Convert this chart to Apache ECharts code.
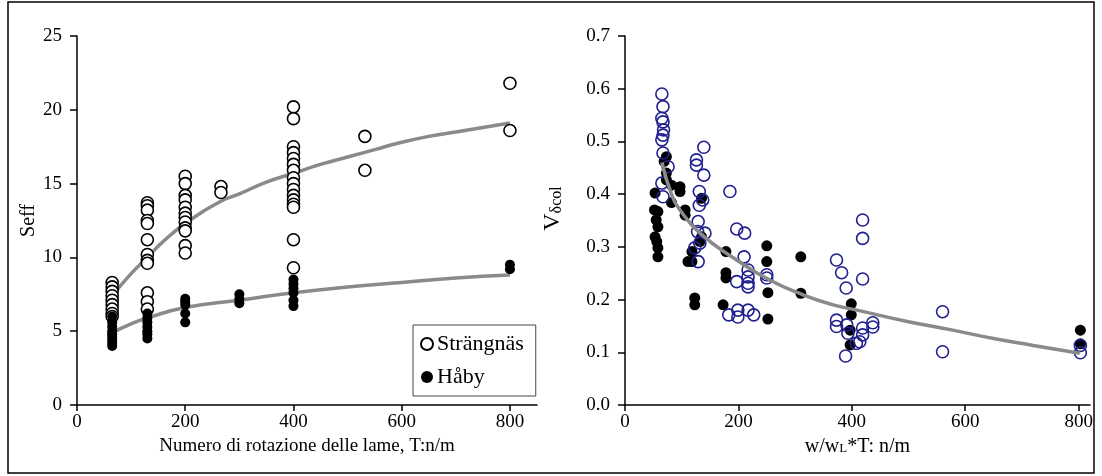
<!DOCTYPE html>
<html>
<head>
<meta charset="utf-8">
<script src="https://cdn.jsdelivr.net/npm/echarts@6/dist/echarts.min.js"></script>
<style>
html, body { margin: 0; padding: 0; background: #fff; }
#chart { width: 1102px; height: 476px; }
</style>
</head>
<body>
<div id="chart"></div>
<script>
// left panel: Seff vs rotation number T (n/m)
var strangnasSeff = [
  [65, 8.3], [65, 8.0], [65, 7.7], [65, 7.4], [65, 7.1], [65, 6.8], [65, 6.5], [65, 6.2], [65, 6.0],
  [130, 13.7], [130, 13.5], [130, 13.2], [130, 12.5], [130, 12.3], [130, 11.2], [130, 10.2], [130, 9.8], [130, 9.6], [130, 7.6], [130, 7.0], [130, 6.5],
  [200, 15.5], [200, 15.0], [200, 14.2], [200, 13.9], [200, 13.4], [200, 13.0], [200, 12.7], [200, 12.4], [200, 12.0], [200, 11.8], [200, 10.8], [200, 10.3],
  [266, 14.8], [266, 14.4],
  [400, 20.2], [400, 19.4], [400, 17.5], [400, 17.1], [400, 16.7], [400, 16.3], [400, 15.9], [400, 15.4], [400, 15.0], [400, 14.6], [400, 14.2], [400, 13.9], [400, 13.6], [400, 13.4], [400, 11.2], [400, 9.3],
  [532, 18.2], [532, 15.9],
  [800, 21.8], [800, 18.6]
];
var habySeff = [
  [65, 6.0], [65, 5.6], [65, 5.3], [65, 5.0], [65, 4.8], [65, 4.6], [65, 4.4], [65, 4.2], [65, 4.0],
  [130, 6.2], [130, 5.9], [130, 5.6], [130, 5.3], [130, 5.0], [130, 4.8], [130, 4.5],
  [200, 7.2], [200, 7.0], [200, 6.8], [200, 6.2], [200, 5.6],
  [300, 7.5], [300, 7.2], [300, 6.9],
  [400, 8.5], [400, 8.2], [400, 7.9], [400, 7.6], [400, 7.1], [400, 6.7],
  [800, 9.5], [800, 9.2]
];
var fitStrangnas = [
  [65, 7.4], [100, 8.9], [130, 10.0], [160, 11.1], [200, 12.3], [266, 13.8], [300, 14.3], [350, 15.1],
  [400, 15.7], [450, 16.3], [500, 16.8], [550, 17.3], [600, 17.8], [650, 18.2], [700, 18.5], [750, 18.8], [800, 19.1]
];
var fitHaby = [
  [65, 4.9], [100, 5.5], [130, 5.9], [200, 6.6], [300, 7.1], [400, 7.6], [500, 8.0], [600, 8.3], [700, 8.6], [800, 8.8]
];

// right panel: V dcol vs w/wL*T
var strangnasV = [
  [65, 0.590], [67, 0.566], [65, 0.544], [67, 0.537], [68, 0.522], [67, 0.512], [65, 0.503], [67, 0.478], [76, 0.452], [65, 0.421], [67, 0.395],
  [126, 0.465], [126, 0.455], [139, 0.489], [139, 0.436], [131, 0.405], [131, 0.379], [137, 0.389], [185, 0.405],
  [129, 0.348], [128, 0.329], [141, 0.326], [132, 0.307], [123, 0.298], [129, 0.272],
  [197, 0.334], [211, 0.326], [210, 0.281], [197, 0.234], [217, 0.256], [217, 0.243], [217, 0.231], [217, 0.224], [250, 0.247], [250, 0.241],
  [183, 0.171], [199, 0.180], [199, 0.167], [217, 0.180], [227, 0.171],
  [373, 0.275], [382, 0.251], [390, 0.222], [373, 0.161], [373, 0.149], [391, 0.152], [393, 0.136], [389, 0.093],
  [419, 0.351], [419, 0.316], [419, 0.239], [419, 0.146], [419, 0.133], [414, 0.120], [408, 0.117], [437, 0.156], [437, 0.148],
  [560, 0.177], [560, 0.101], [803, 0.099], [803, 0.113]
];
var habyV = [
  [53, 0.402], [82, 0.384], [73, 0.471], [69, 0.462], [73, 0.440], [73, 0.427], [82, 0.417], [97, 0.414], [97, 0.405], [52, 0.370], [58, 0.367], [106, 0.370], [135, 0.392],
  [55, 0.351], [58, 0.338], [53, 0.319], [56, 0.310], [58, 0.298], [58, 0.281], [106, 0.360],
  [118, 0.291], [111, 0.272], [118, 0.272], [123, 0.203], [123, 0.190], [132, 0.310], [135, 0.319],
  [178, 0.291], [178, 0.251], [178, 0.241], [173, 0.190],
  [250, 0.302], [250, 0.272], [252, 0.213], [252, 0.163],
  [310, 0.281], [310, 0.212],
  [399, 0.192], [399, 0.171], [397, 0.142], [397, 0.114],
  [803, 0.142], [803, 0.116]
];
var fitV = [
  [65, 0.46], [82, 0.40], [97, 0.37], [132, 0.326], [197, 0.275], [255, 0.237], [314, 0.209], [367, 0.19],
  [409, 0.18], [500, 0.158], [578, 0.142], [650, 0.126], [720, 0.113], [802, 0.098]
];

var xTicks = [0, 200, 400, 600, 800];

var serif = '"Liberation Serif", "Times New Roman", serif';

var dom = document.getElementById('chart');
var myChart = echarts.init(dom, null, { renderer: 'canvas' });

function xAxisCfg(idx, max, name, nameStyle) {
  return {
    gridIndex: idx,
    type: 'value',
    min: 0,
    max: max,
    name: name,
    nameLocation: 'middle',
    nameGap: 27,
    nameTextStyle: nameStyle,
    axisLine: { onZero: false, lineStyle: { color: '#000', width: 1.5 } },
    axisTick: { customValues: xTicks, length: 6, lineStyle: { color: '#000', width: 1.5 } },
    axisLabel: { customValues: xTicks, color: '#000', fontFamily: serif, fontSize: 19, margin: 8 },
    splitLine: { show: false }
  };
}

function yAxisCfg(idx, max, interval, name, gap, nameStyle, fmt) {
  return {
    gridIndex: idx,
    type: 'value',
    min: 0,
    max: max,
    interval: interval,
    name: name,
    nameLocation: 'middle',
    nameGap: gap,
    nameTextStyle: nameStyle,
    axisLine: { show: true, lineStyle: { color: '#000', width: 1.5 } },
    axisTick: { show: true, length: 7, lineStyle: { color: '#000', width: 1.5 } },
    axisLabel: { color: '#000', fontFamily: serif, fontSize: 19, margin: 15, formatter: fmt },
    splitLine: { show: false }
  };
}

var openStyle = { color: '#fff', borderColor: '#000', borderWidth: 1.6, opacity: 1 };
var dotStyle = { color: '#000', opacity: 1 };
var fitLine = { color: '#8a8a8a', width: 3.5 };

var option = {
  animation: false,
  backgroundColor: '#fff',
  graphic: [{
    type: 'rect',
    shape: { x: 8, y: 2, width: 1086, height: 471 },
    style: { fill: 'none', stroke: '#000', lineWidth: 1.5 },
    silent: true
  }],
  legend: {
    data: ['Strängnäs', 'Håby'],
    orient: 'vertical',
    left: 413,
    top: 325,
    padding: [8, 12, 8, 7],
    itemGap: 11,
    itemWidth: 14,
    itemHeight: 12,
    borderColor: '#444',
    borderWidth: 1,
    backgroundColor: '#fff',
    textStyle: { fontFamily: serif, fontSize: 22, color: '#000', padding: [0, 0, 0, -2] },
    selectedMode: false
  },
  grid: [
    { left: 77, top: 36, width: 460, height: 369 },
    { left: 625, top: 36, width: 465, height: 369 }
  ],
  xAxis: [
    xAxisCfg(0, 850, 'Numero di rotazione delle lame, T:n/m',
      { fontFamily: serif, fontSize: 19, color: '#000' }),
    xAxisCfg(1, 820, '{a|w/w}{b|L}{a|*T: n/m}',
      { rich: {
        a: { fontFamily: serif, fontSize: 20, color: '#000' },
        b: { fontFamily: serif, fontSize: 13, color: '#000', verticalAlign: 'bottom', padding: [0, 0, 2, 0] }
      } })
  ],
  yAxis: [
    yAxisCfg(0, 25, 5, 'Seff', 38, { fontFamily: serif, fontSize: 20, color: '#000' }),
    yAxisCfg(1, 0.7, 0.1, '{v|V}{s|δcol}', 60, { rich: {
        v: { fontFamily: serif, fontSize: 24, color: '#000' },
        s: { fontFamily: serif, fontSize: 16, color: '#000', verticalAlign: 'bottom' }
      }, padding: [0, 0, 0, 24] },
      function (v) { return v.toFixed(1); })
  ],
  series: [
    { name: 'fitS', type: 'line', xAxisIndex: 0, yAxisIndex: 0, data: fitStrangnas, smooth: true, showSymbol: false, lineStyle: fitLine, z: 1 },
    { name: 'fitH', type: 'line', xAxisIndex: 0, yAxisIndex: 0, data: fitHaby, smooth: true, showSymbol: false, lineStyle: fitLine, z: 1 },
    { name: 'Strängnäs', type: 'scatter', xAxisIndex: 0, yAxisIndex: 0, data: strangnasSeff, symbolSize: 12, itemStyle: openStyle, z: 3 },
    { name: 'Håby', type: 'scatter', xAxisIndex: 0, yAxisIndex: 0, data: habySeff, symbolSize: 10, itemStyle: dotStyle, z: 4 },
    { name: 'fitV', type: 'line', xAxisIndex: 1, yAxisIndex: 1, data: fitV, smooth: true, showSymbol: false, lineStyle: fitLine, z: 5 },
    { name: 'Håby V', type: 'scatter', xAxisIndex: 1, yAxisIndex: 1, data: habyV, symbolSize: 11, itemStyle: dotStyle, z: 3 },
    { name: 'Strängnäs V', type: 'scatter', xAxisIndex: 1, yAxisIndex: 1, data: strangnasV, symbolSize: 12, itemStyle: { color: 'rgba(255,255,255,0)', borderColor: '#20208f', borderWidth: 1.6, opacity: 1 }, z: 4 }
  ]
};

if (option && typeof option === 'object') {
  myChart.setOption(option);
}

window.addEventListener('resize', myChart.resize);
</script>
</body>
</html>
